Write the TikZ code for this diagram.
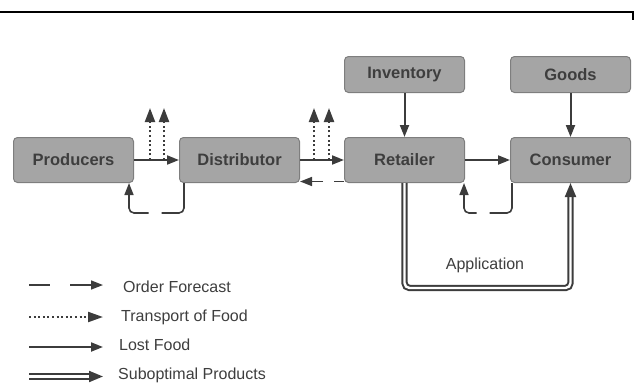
\documentclass[tikz,border=0pt]{standalone}
\usepackage{fontspec}
\setmainfont{Liberation Sans}
\usepackage{xcolor}
\usetikzlibrary{positioning,arrows.meta}
\definecolor{boxfill}{HTML}{A5A5A5}
\definecolor{boxline}{HTML}{7E7E7E}
\definecolor{boxtext}{HTML}{3E3E3E}
\definecolor{wire}{HTML}{3C3C3C}
\tikzset{
  stage/.style     ={rounded corners=4pt, draw=boxline, fill=boxfill, line width=1pt,
                     font=\fontsize{16.5}{19}\selectfont\bfseries, text=boxtext, align=center,
                     minimum width=120pt, minimum height=45pt, inner sep=2pt},
  source/.style    ={stage, minimum height=36pt},
  lostarr/.style   ={-{Triangle[length=12pt,width=9pt]}, draw=wire, line width=2pt},
  transarr/.style  ={-{Triangle[length=14pt,width=10pt]}, draw=wire, line width=2.2pt,
                     dash pattern=on 2pt off 2.6pt},
  forearr/.style   ={-{Triangle[length=12pt,width=9pt]}, draw=wire, line width=1.6pt,
                     dash pattern=#1},
  forearr/.default ={on 50pt off 13pt},
  suboptarr/.style ={-{Triangle[length=14pt,width=11pt]}, draw=wire, line width=2pt,
                     double=white, double distance=2.4pt},
  legtext/.style   ={anchor=base west, inner sep=0pt, font=\fontsize{16}{19}\selectfont, text=boxtext},
}
\begin{document}
\begin{tikzpicture}[x=1pt,y=-1pt]
\useasboundingbox (0,0) rectangle (637,383);
% ---- frame line at the top
\draw[line width=2pt, black] (0,12) -- (633,12) -- (633,20);

% ---- supply chain
\node[stage] (prod) at (73.5,160) {Producers};
\node[stage, right=45pt of prod] (dist) {Distributor};
\node[stage, right=44pt of dist] (ret) {Retailer};
\node[stage, right=45pt of ret] (cons) {Consumer};
\node[source, above=44pt of ret] (inv) {Inventory};
\node[source, above=44pt of cons] (goods) {Goods};

% ---- lost food
\draw[lostarr] (prod) -- (dist);
\draw[lostarr] (dist) -- (ret);
\draw[lostarr] (ret) -- (cons);
\draw[lostarr] (inv) -- (ret);
\draw[lostarr] (goods) -- (cons);

% ---- transport of food
\draw[transarr] ([xshift=16pt]prod.east) -- ++(0,-52);
\draw[transarr] ([xshift=30pt]prod.east) -- ++(0,-52);
\draw[transarr] ([xshift=14pt]dist.east) -- ++(0,-52);
\draw[transarr] ([xshift=29pt]dist.east) -- ++(0,-52);

% ---- order forecast
\draw[forearr={on 10pt off 11pt on 40pt off 10pt}] ([yshift=1.5pt]ret.south west) -- ([yshift=1.5pt]dist.south east);
\draw[forearr, rounded corners=5pt] ([xshift=5pt]dist.south west) -- ++(0,30) -| ([xshift=-5pt]prod.south east);
\draw[forearr, rounded corners=5pt] ([xshift=2pt]cons.south west) -- ++(0,30) -| ([xshift=-1pt]ret.south east);

% ---- suboptimal products
\draw[suboptarr, rounded corners=5pt] (ret.south) -- ++(0,105) -| (cons.south);
\node[font=\fontsize{16}{19}\selectfont, text=boxtext] (app) at (485,265) {Application};

% ---- legend
\node[legtext] (lgfore) at (123,292) {Order Forecast};
\node[legtext] (lgtrans) at (121,321) {Transport of Food};
\node[legtext] (lglost) at (119,350.5) {Lost Food};
\node[legtext] (lgsub) at (118,379) {Suboptimal Products};
\coordinate (kfore) at (29,285);
\coordinate (kforeend) at (103,285);
\coordinate (ktrans) at (29,317);
\coordinate (ktransend) at (103,317);
\coordinate (klost) at (29,347);
\coordinate (klostend) at (103,347);
\coordinate (ksub) at (29,376.5);
\coordinate (ksubend) at (103,376.5);
\draw[forearr={on 21pt off 20pt on 60pt off 1pt}] (kfore) -- (kforeend);
\draw[transarr, -{Triangle[length=15pt,width=10pt]}] (ktrans) -- (ktransend);
\draw[lostarr] (klost) -- (klostend);
\draw[suboptarr] (ksub) -- (ksubend);
\end{tikzpicture}
\end{document}
